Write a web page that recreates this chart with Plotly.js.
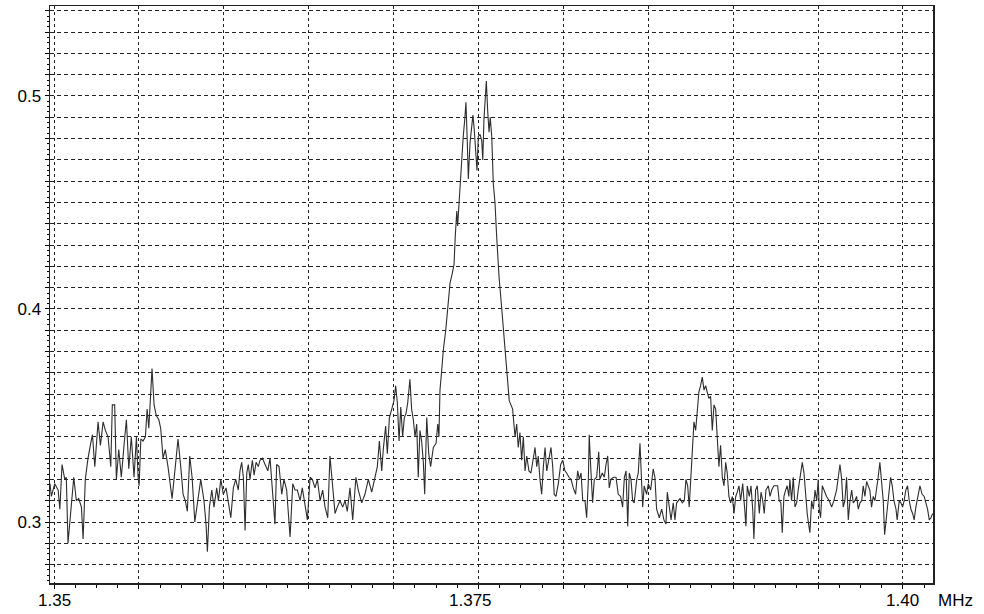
<!DOCTYPE html>
<html>
<head>
<meta charset="utf-8">
<script src="https://cdn.plot.ly/plotly-3.0.1.min.js"></script>
<style>html,body{margin:0;padding:0;background:#fff;}#chart{width:984px;height:614px;}</style>
</head>
<body>
<div id="chart"></div>
<script>
// Frequency (MHz) and signal amplitude
const freqMHz = [
1.34976,1.34984,1.35004,1.35024,1.35034,1.35047,1.35063,1.35072,1.35082,1.35102,
1.35116,1.35131,1.35145,1.35161,1.35171,1.35184,1.35200,1.35216,1.35226,1.35240,
1.35259,1.35273,1.35289,1.35302,1.35318,1.35334,1.35343,1.35357,1.35367,1.35381,
1.35396,1.35412,1.35426,1.35440,1.35455,1.35471,1.35485,1.35495,1.35501,1.35511,
1.35524,1.35538,1.35548,1.35558,1.35569,1.35577,1.35589,1.35602,1.35617,1.35628,
1.35642,1.35655,1.35671,1.35695,1.35714,1.35730,1.35746,1.35760,1.35773,1.35785,
1.35799,1.35813,1.35829,1.35848,1.35864,1.35883,1.35895,1.35903,1.35915,1.35929,
1.35942,1.35958,1.35968,1.35982,1.35997,1.36013,1.36026,1.36041,1.36056,1.36070,
1.36085,1.36095,1.36105,1.36115,1.36125,1.36135,1.36144,1.36154,1.36168,1.36178,
1.36190,1.36203,1.36213,1.36227,1.36243,1.36259,1.36272,1.36288,1.36301,1.36311,
1.36325,1.36341,1.36354,1.36370,1.36380,1.36390,1.36406,1.36419,1.36433,1.36449,
1.36462,1.36478,1.36492,1.36508,1.36521,1.36537,1.36551,1.36567,1.36582,1.36596,
1.36612,1.36625,1.36639,1.36655,1.36668,1.36684,1.36700,1.36714,1.36727,1.36743,
1.36759,1.36778,1.36792,1.36812,1.36831,1.36851,1.36871,1.36890,1.36904,1.36916,
1.36930,1.36939,1.36953,1.36963,1.36975,1.36989,1.37002,1.37012,1.37022,1.37032,
1.37042,1.37053,1.37063,1.37073,1.37083,1.37096,1.37106,1.37116,1.37126,1.37136,
1.37145,1.37155,1.37165,1.37175,1.37183,1.37195,1.37207,1.37218,1.37234,1.37250,
1.37260,1.37267,1.37273,1.37283,1.37293,1.37307,1.37322,1.37332,1.37346,1.37356,
1.37363,1.37372,1.37377,1.37385,1.37393,1.37401,1.37410,1.37419,1.37426,1.37434,
1.37440,1.37450,1.37460,1.37467,1.37475,1.37483,1.37491,1.37499,1.37509,1.37519,
1.37525,1.37532,1.37540,1.37546,1.37554,1.37562,1.37569,1.37578,1.37587,1.37597,
1.37607,1.37621,1.37637,1.37650,1.37666,1.37681,1.37701,1.37715,1.37725,1.37734,
1.37744,1.37754,1.37764,1.37774,1.37784,1.37797,1.37809,1.37823,1.37833,1.37843,
1.37852,1.37862,1.37872,1.37882,1.37892,1.37902,1.37915,1.37927,1.37937,1.37946,
1.37956,1.37970,1.37984,1.37996,1.38009,1.38019,1.38033,1.38045,1.38058,1.38072,
1.38084,1.38094,1.38104,1.38114,1.38127,1.38137,1.38147,1.38152,1.38162,1.38172,
1.38182,1.38196,1.38208,1.38215,1.38229,1.38241,1.38251,1.38261,1.38270,1.38280,
1.38294,1.38310,1.38323,1.38337,1.38349,1.38359,1.38369,1.38379,1.38388,1.38398,
1.38408,1.38417,1.38432,1.38441,1.38451,1.38457,1.38467,1.38476,1.38490,1.38500,
1.38514,1.38529,1.38539,1.38549,1.38565,1.38579,1.38592,1.38604,1.38612,1.38624,
1.38634,1.38647,1.38657,1.38667,1.38677,1.38687,1.38700,1.38712,1.38722,1.38732,
1.38741,1.38750,1.38759,1.38769,1.38779,1.38788,1.38798,1.38808,1.38818,1.38828,
1.38838,1.38847,1.38857,1.38867,1.38877,1.38887,1.38897,1.38906,1.38916,1.38926,
1.38936,1.38946,1.38956,1.38965,1.38975,1.38985,1.38995,1.39005,1.39015,1.39024,
1.39034,1.39044,1.39056,1.39068,1.39075,1.39083,1.39095,1.39105,1.39115,1.39122,
1.39132,1.39142,1.39154,1.39164,1.39174,1.39183,1.39193,1.39207,1.39217,1.39227,
1.39240,1.39252,1.39262,1.39271,1.39281,1.39289,1.39299,1.39309,1.39318,1.39328,
1.39334,1.39344,1.39354,1.39364,1.39374,1.39383,1.39393,1.39407,1.39417,1.39427,
1.39436,1.39446,1.39452,1.39462,1.39472,1.39482,1.39492,1.39501,1.39507,1.39515,
1.39525,1.39535,1.39550,1.39566,1.39580,1.39593,1.39609,1.39619,1.39629,1.39639,
1.39648,1.39658,1.39668,1.39678,1.39688,1.39698,1.39707,1.39717,1.39727,1.39737,
1.39747,1.39757,1.39766,1.39776,1.39786,1.39795,1.39805,1.39815,1.39825,1.39835,
1.39845,1.39854,1.39864,1.39874,1.39884,1.39892,1.39900,1.39907,1.39917,1.39927,
1.39937,1.39947,1.39959,1.39966,1.39978,1.39988,1.39998,1.40007,1.40017,1.40027,
1.40037,1.40047,1.40057,1.40066,1.40076,1.40086,1.40100,1.40113,1.40125,1.40135,
1.40145,1.40155,1.40165,1.40175
];

const amplitude = [
0.318,0.312,0.318,0.315,0.306,0.327,0.320,0.321,0.290,0.310,
0.321,0.310,0.311,0.307,0.292,0.320,0.330,0.337,0.341,0.326,
0.347,0.336,0.347,0.343,0.340,0.326,0.355,0.355,0.320,0.334,
0.321,0.336,0.348,0.325,0.340,0.321,0.340,0.321,0.317,0.339,
0.338,0.340,0.353,0.344,0.359,0.372,0.355,0.350,0.348,0.344,
0.330,0.334,0.326,0.311,0.326,0.339,0.326,0.313,0.310,0.305,
0.331,0.321,0.300,0.312,0.320,0.310,0.299,0.286,0.307,0.315,
0.307,0.316,0.310,0.320,0.313,0.316,0.310,0.302,0.316,0.320,
0.315,0.324,0.328,0.321,0.296,0.323,0.327,0.320,0.329,0.322,
0.328,0.326,0.329,0.330,0.327,0.324,0.330,0.315,0.299,0.327,
0.326,0.313,0.320,0.315,0.301,0.293,0.318,0.315,0.315,0.310,
0.316,0.307,0.301,0.321,0.320,0.316,0.320,0.310,0.315,0.307,
0.302,0.331,0.320,0.304,0.307,0.310,0.307,0.310,0.305,0.316,
0.301,0.321,0.315,0.309,0.313,0.320,0.314,0.321,0.326,0.338,
0.324,0.334,0.345,0.332,0.349,0.353,0.357,0.364,0.356,0.338,
0.354,0.340,0.349,0.351,0.356,0.367,0.353,0.348,0.340,0.346,
0.321,0.343,0.338,0.328,0.313,0.349,0.332,0.326,0.335,0.337,
0.346,0.340,0.362,0.371,0.381,0.390,0.403,0.412,0.417,0.421,
0.434,0.446,0.439,0.450,0.459,0.468,0.481,0.489,0.497,0.478,
0.461,0.478,0.486,0.491,0.484,0.473,0.465,0.481,0.482,0.479,
0.470,0.489,0.500,0.507,0.493,0.483,0.490,0.481,0.459,0.450,
0.434,0.415,0.400,0.387,0.368,0.357,0.353,0.340,0.346,0.335,
0.342,0.329,0.340,0.324,0.331,0.324,0.323,0.329,0.335,0.326,
0.331,0.320,0.313,0.326,0.335,0.324,0.329,0.335,0.326,0.313,
0.312,0.318,0.327,0.329,0.324,0.323,0.321,0.320,0.316,0.313,
0.324,0.320,0.323,0.310,0.310,0.302,0.320,0.341,0.324,0.309,
0.320,0.321,0.333,0.320,0.323,0.321,0.327,0.331,0.316,0.320,
0.321,0.321,0.313,0.312,0.307,0.321,0.324,0.298,0.323,0.320,
0.310,0.309,0.320,0.323,0.337,0.324,0.307,0.317,0.313,0.318,
0.315,0.325,0.321,0.306,0.302,0.306,0.301,0.299,0.314,0.307,
0.301,0.309,0.301,0.309,0.310,0.311,0.309,0.310,0.320,0.317,
0.307,0.321,0.336,0.347,0.343,0.353,0.361,0.364,0.368,0.362,
0.364,0.361,0.358,0.359,0.343,0.355,0.353,0.340,0.326,0.336,
0.321,0.317,0.328,0.323,0.312,0.309,0.312,0.304,0.312,0.314,
0.317,0.310,0.318,0.306,0.298,0.317,0.312,0.317,0.306,0.292,
0.315,0.317,0.304,0.314,0.310,0.304,0.315,0.317,0.312,0.315,
0.317,0.317,0.317,0.310,0.309,0.295,0.312,0.315,0.317,0.312,
0.320,0.310,0.321,0.307,0.309,0.315,0.321,0.328,0.323,0.312,
0.304,0.298,0.295,0.310,0.306,0.315,0.310,0.320,0.306,0.302,
0.317,0.315,0.312,0.310,0.307,0.310,0.315,0.321,0.327,0.320,
0.307,0.310,0.321,0.301,0.310,0.315,0.309,0.310,0.312,0.306,
0.309,0.310,0.317,0.312,0.319,0.317,0.315,0.307,0.312,0.310,
0.315,0.321,0.328,0.320,0.310,0.294,0.301,0.307,0.315,0.321,
0.317,0.310,0.306,0.301,0.310,0.309,0.307,0.310,0.315,0.317,
0.310,0.306,0.304,0.301,0.307,0.312,0.317,0.313,0.312,0.309,
0.306,0.301,0.302,0.304
];

// Axis ticks (gridline positions) and their labels
const xTickVals = [1.35,1.355,1.36,1.365,1.37,1.375,1.38,1.385,1.39,1.395,1.40];
const xLabelVals = [1.35, 1.375, 1.40];
const xLabelText = ['1.35', '1.375', '1.40'];
const yTickVals = [0.28,0.29,0.30,0.31,0.32,0.33,0.34,0.35,0.36,0.37,0.38,0.39,0.40,0.41,0.42,0.43,0.44,0.45,0.46,0.47,0.48,0.49,0.50,0.51,0.52,0.53,0.54];
const yTickText = ['','','0.3','','','','','','','','','','0.4','','','','','','','','','','0.5','','','',''];
const xUnit = 'MHz';

const FONT = 'Liberation Sans, Arial, sans-serif';
const FS = 17;

const trace = {
  type: 'scatter',
  mode: 'lines',
  x: freqMHz,
  y: amplitude,
  line: {color: '#2e2e2e', width: 1.1},
  hoverinfo: 'skip'
};

// x labels drawn as annotations to match the reference placement
const xLabelShift = [0, -8, 0];
const annotations = xLabelVals.map((v, i) => ({
  text: xLabelText[i],
  xref: 'x', yref: 'paper',
  x: v, y: -0.03, xshift: xLabelShift[i],
  xanchor: 'center', yanchor: 'middle',
  showarrow: false,
  font: {family: FONT, size: FS, color: '#000'}
}));
annotations.push({
  text: xUnit,
  xref: 'paper', yref: 'paper',
  x: 1.025, y: -0.03,
  xanchor: 'center', yanchor: 'middle',
  showarrow: false,
  font: {family: FONT, size: FS, color: '#000'}
});

const layout = {
  width: 984,
  height: 614,
  margin: {l: 50, r: 51, t: 6, b: 31, pad: 0},
  paper_bgcolor: '#ffffff',
  plot_bgcolor: '#ffffff',
  showlegend: false,
  font: {family: FONT, size: FS, color: '#000'},
  xaxis: {
    range: [1.34976, 1.40177],
    tickmode: 'array',
    tickvals: xTickVals,
    showticklabels: false,
    showgrid: true,
    gridcolor: '#222222',
    gridwidth: 1,
    griddash: '3px,3px',
    zeroline: false,
    showline: true,
    linecolor: '#222222',
    linewidth: 1.5,
    mirror: true,
    ticks: 'outside',
    ticklen: 4,
    tickwidth: 1,
    tickcolor: '#000',
    minor: {dtick: 0.00125, tick0: 1.35, ticks: 'outside', ticklen: 3, tickwidth: 1, tickcolor: '#000', showgrid: false}
  },
  yaxis: {
    range: [0.27136, 0.54225],
    tickmode: 'array',
    tickvals: yTickVals,
    ticktext: yTickText,
    showgrid: true,
    gridcolor: '#222222',
    gridwidth: 1,
    griddash: '4px,3px',
    zeroline: false,
    showline: true,
    linecolor: '#222222',
    linewidth: 1.5,
    mirror: true,
    ticks: 'outside',
    ticklen: 4,
    tickwidth: 1,
    tickcolor: '#000',
    tickfont: {family: FONT, size: FS, color: '#000'},
    minor: {dtick: 0.0025, tick0: 0.3, ticks: 'outside', ticklen: 2, tickwidth: 1, tickcolor: '#000', showgrid: false}
  },
  annotations: annotations
};

Plotly.newPlot('chart', [trace], layout, {staticPlot: true, displayModeBar: false});
</script>
</body>
</html>
